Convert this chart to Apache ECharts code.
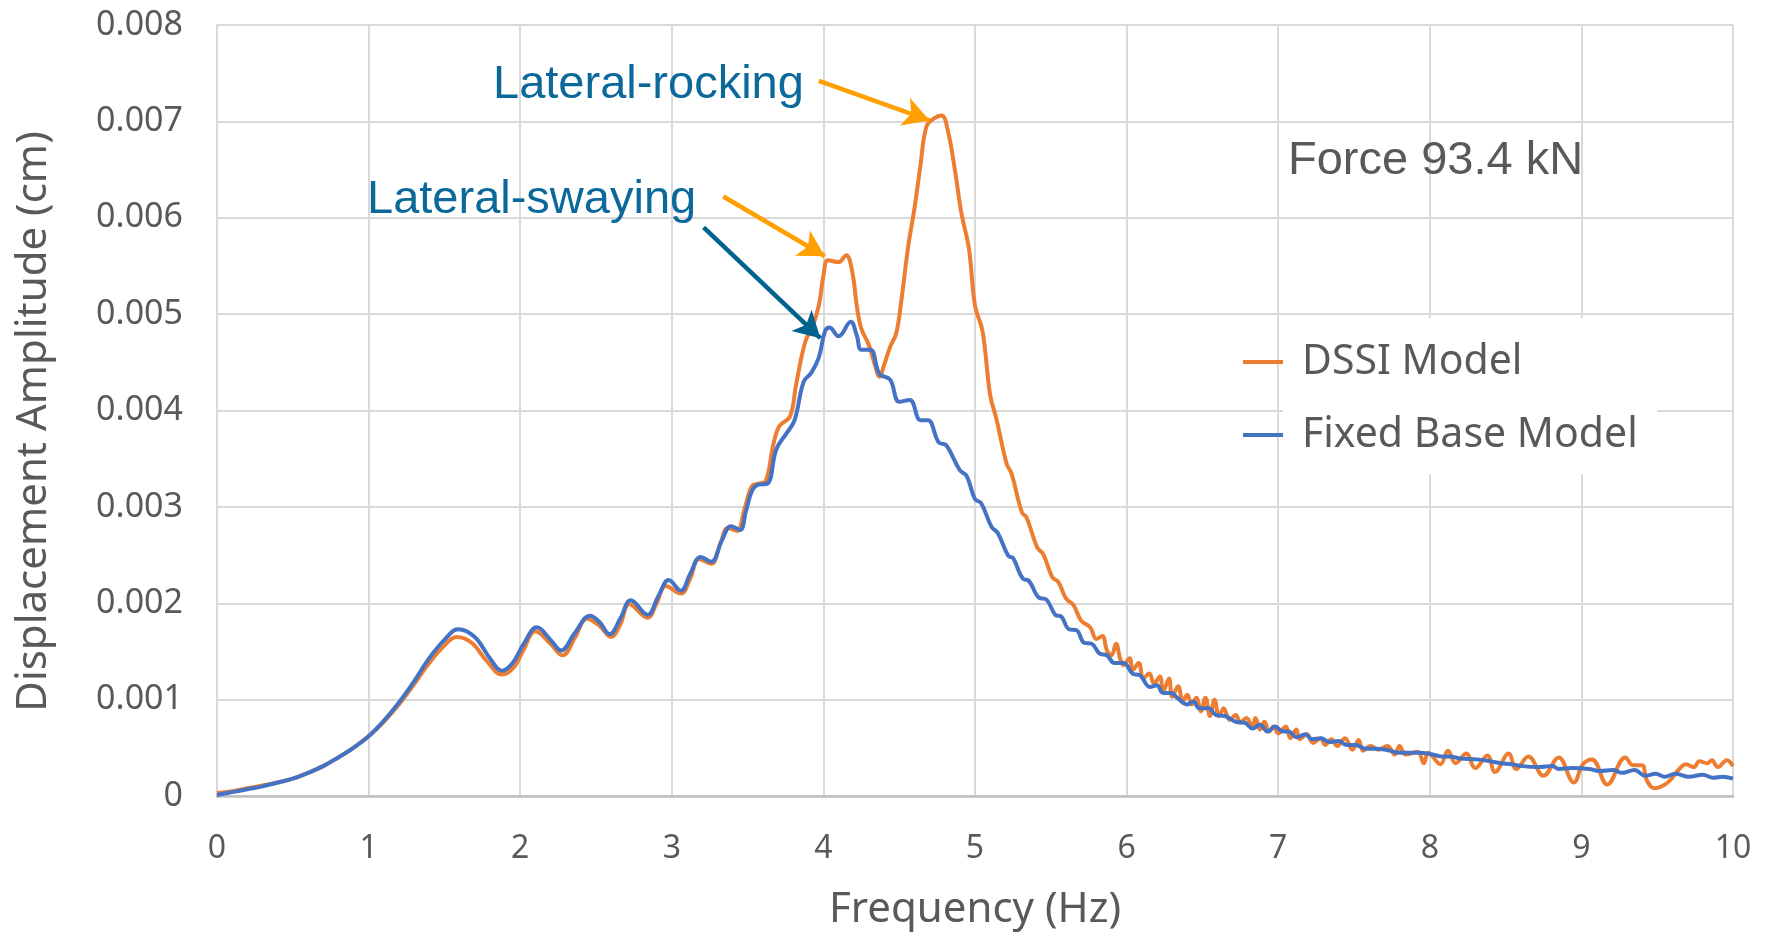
<!DOCTYPE html>
<html><head><meta charset="utf-8">
<script src="https://cdn.jsdelivr.net/npm/echarts@6/dist/echarts.min.js"></script>
<style>html,body{margin:0;padding:0;background:#fff}#c{width:1773px;height:936px}</style>
</head><body><div id="c"></div>
<script>
// ---- data ----
const xTicks = [0,1,2,3,4,5,6,7,8,9,10];
const yTicks = [0,0.001,0.002,0.003,0.004,0.005,0.006,0.007,0.008];

const dssiFreq = [0,0.1,0.2,0.3,0.4,0.5,0.6,0.7,0.8,0.9,1.0,1.1,1.2,1.3,1.4,1.5,1.58,1.68,1.78,1.88,1.96,2.02,2.1,2.2,2.28,2.36,2.44,2.52,2.6,2.66,2.72,2.84,2.9,2.96,3.06,3.12,3.18,3.26,3.32,3.37,3.43,3.48,3.53,3.57,3.62,3.67,3.71,3.78,3.82,3.88,3.93,3.97,4.00,4.03,4.10,4.15,4.19,4.22,4.25,4.30,4.34,4.37,4.40,4.44,4.48,4.51,4.56,4.60,4.64,4.68,4.73,4.78,4.82,4.87,4.91,4.96,5.00,5.05,5.10,5.14,5.21,5.24,5.31,5.34,5.41,5.45,5.51,5.55,5.60,5.65,5.70,5.76,5.80,5.84,5.87,5.90,5.93,5.96,5.98,6.02,6.04,6.08,6.11,6.15,6.18,6.22,6.24,6.28,6.30,6.34,6.37,6.40,6.43,6.46,6.49,6.52,6.55,6.58,6.61,6.64,6.68,6.72,6.75,6.79,6.83,6.85,6.88,6.91,6.94,6.97,7.00,7.05,7.08,7.12,7.14,7.19,7.23,7.28,7.31,7.35,7.39,7.44,7.49,7.53,7.56,7.61,7.66,7.72,7.77,7.80,7.84,7.92,7.96,7.99,8.07,8.12,8.17,8.24,8.30,8.38,8.43,8.52,8.57,8.65,8.75,8.85,8.95,9.01,9.07,9.17,9.29,9.34,9.40,9.43,9.48,9.57,9.64,9.69,9.74,9.78,9.83,9.86,9.90,9.96,10.0];
const dssiAmp = [0.00003,0.00005,0.00008,0.00011,0.00014,0.00018,0.00024,0.00031,0.0004,0.0005,0.00062,0.00077,0.00095,0.00116,0.00138,0.00156,0.00165,0.00159,0.0014,0.00126,0.00134,0.00151,0.00171,0.00158,0.00146,0.00164,0.00184,0.00177,0.00165,0.00178,0.00199,0.00185,0.002,0.00218,0.0021,0.00225,0.00246,0.00241,0.00262,0.00278,0.00275,0.00298,0.00322,0.00324,0.00327,0.00365,0.00384,0.00394,0.00427,0.00471,0.00488,0.00509,0.0054,0.00556,0.00554,0.00561,0.00544,0.00509,0.00485,0.00468,0.00447,0.00435,0.00447,0.00466,0.0048,0.00509,0.00571,0.00609,0.00654,0.00695,0.00703,0.00706,0.00691,0.00647,0.00605,0.00568,0.00509,0.00482,0.00416,0.00392,0.00344,0.00335,0.00294,0.00289,0.00258,0.00251,0.00227,0.00222,0.00205,0.00198,0.00182,0.00175,0.00163,0.00166,0.00151,0.00146,0.00158,0.00141,0.00136,0.00143,0.00131,0.00138,0.00122,0.00127,0.00117,0.00124,0.00108,0.00122,0.00103,0.00114,0.00098,0.00105,0.00095,0.00102,0.00088,0.00102,0.00083,0.001,0.00083,0.00091,0.00079,0.00084,0.00076,0.00081,0.00072,0.00081,0.00069,0.00077,0.00067,0.00072,0.00065,0.00072,0.0006,0.00069,0.00059,0.00064,0.00055,0.0006,0.00053,0.00059,0.00052,0.0006,0.00048,0.00058,0.00047,0.00052,0.00048,0.00052,0.00043,0.00052,0.00043,0.00046,0.00034,0.00045,0.00033,0.00047,0.00034,0.00044,0.00029,0.00042,0.00025,0.00044,0.00028,0.00041,0.00021,0.0004,0.00014,0.00033,0.00038,0.00012,0.0004,0.00032,0.00032,0.00017,0.00008,0.00014,0.00027,0.00033,0.0003,0.00036,0.00034,0.00037,0.0003,0.00037,0.00031];

const fixedFreq = [0,0.1,0.2,0.3,0.4,0.5,0.6,0.7,0.8,0.9,1.0,1.1,1.2,1.3,1.4,1.5,1.59,1.7,1.8,1.88,1.95,2.02,2.11,2.2,2.27,2.36,2.46,2.52,2.59,2.66,2.73,2.84,2.91,2.98,3.06,3.12,3.19,3.26,3.33,3.39,3.45,3.49,3.53,3.57,3.63,3.69,3.76,3.81,3.87,3.92,3.97,4.01,4.04,4.10,4.18,4.22,4.25,4.31,4.37,4.44,4.50,4.57,4.64,4.69,4.76,4.81,4.90,4.945,5.00,5.04,5.11,5.15,5.22,5.25,5.32,5.35,5.42,5.47,5.53,5.57,5.62,5.67,5.72,5.77,5.82,5.87,5.92,5.98,6.04,6.09,6.154,6.2,6.24,6.29,6.34,6.40,6.44,6.48,6.54,6.59,6.65,6.72,6.78,6.83,6.88,6.93,6.98,7.03,7.07,7.12,7.18,7.22,7.28,7.34,7.40,7.45,7.51,7.58,7.64,7.71,7.80,7.87,7.93,8.02,8.08,8.13,8.20,8.31,8.40,8.47,8.54,8.61,8.72,8.81,8.85,8.94,9.05,9.12,9.21,9.27,9.35,9.42,9.49,9.55,9.62,9.71,9.80,9.87,9.93,10.0];
const fixedAmp = [0.00001,0.00004,0.00007,0.0001,0.00014,0.00018,0.00024,0.00031,0.0004,0.0005,0.00062,0.00078,0.00097,0.00119,0.00143,0.00162,0.00173,0.00165,0.00143,0.0013,0.00138,0.00157,0.00175,0.00162,0.00151,0.00169,0.00187,0.00181,0.00168,0.00184,0.00203,0.00188,0.00207,0.00224,0.00213,0.0023,0.00248,0.00243,0.00265,0.0028,0.00276,0.00296,0.00317,0.00323,0.00324,0.0036,0.00377,0.0039,0.0043,0.00439,0.00455,0.00482,0.00486,0.00477,0.00492,0.00478,0.00463,0.00463,0.00438,0.00432,0.00409,0.00411,0.0039,0.0039,0.00367,0.00364,0.00338,0.00332,0.00308,0.00304,0.00279,0.00273,0.00249,0.00247,0.00225,0.00224,0.00206,0.00204,0.00188,0.00186,0.00173,0.00172,0.00159,0.00158,0.00148,0.00146,0.00138,0.00138,0.00127,0.00125,0.00113,0.00115,0.00107,0.00107,0.00101,0.00095,0.00098,0.00091,0.00091,0.00084,0.00083,0.00077,0.00076,0.0007,0.00074,0.00067,0.00072,0.00067,0.00067,0.00061,0.00064,0.00059,0.0006,0.00056,0.00057,0.00053,0.00053,0.00049,0.00049,0.00048,0.00045,0.00045,0.00045,0.00043,0.00041,0.00041,0.00039,0.00038,0.00036,0.00034,0.00033,0.00031,0.0003,0.00031,0.00028,0.00029,0.00028,0.00026,0.00027,0.00024,0.00027,0.00021,0.00023,0.0002,0.00023,0.0002,0.00022,0.00019,0.0002,0.00018];

// annotation arrows: [fromFreq, fromAmp, toFreq, toAmp]
const arrowRocking = [3.97, 0.00742, 4.70, 0.00701];
const arrowSwayDSSI = [3.34, 0.00622, 4.01, 0.00560];
const arrowSwayFixed = [3.21, 0.00590, 3.98, 0.00475];

const seriesNames = ['DSSI Model', 'Fixed Base Model'];
const annotationTexts = ['Lateral-rocking', 'Lateral-swaying', 'Force 93.4 kN'];

// ---- chart ----
const zip = (a, b) => a.map((x, i) => [x, b[i]]);
const chart = echarts.init(document.getElementById('c'), null, {renderer: 'canvas'});
const gray = '#595959';
const font = 'Noto Sans';
const arrowLine = (a, color) => [
  {coord: [a[0], a[1]], lineStyle: {color: color, width: 4.5, type: 'solid'}, symbol: 'none'},
  {coord: [a[2], a[3]], symbol: 'arrow'}
];

chart.setOption({
  animation: false,
  backgroundColor: '#fff',
  grid: {left: 217, top: 25, right: 40, bottom: 136, containLabel: false},
  xAxis: {
    type: 'value', min: 0, max: 10, interval: 1,
    name: 'Frequency (Hz)', nameLocation: 'middle', nameGap: 93,
    nameTextStyle: {fontFamily: font, fontSize: 42, color: gray},
    axisLine: {show: true, lineStyle: {color: '#BFBFBF', width: 2.5}},
    axisTick: {show: false},
    axisLabel: {fontFamily: font, fontSize: 32, color: gray, margin: 37,
      formatter: v => xTicks.includes(v) ? String(v) : ''},
    splitLine: {show: true, lineStyle: {color: '#D9D9D9', width: 2}}
  },
  yAxis: {
    type: 'value', min: 0, max: 0.008, interval: 0.001,
    name: 'Displacement Amplitude (cm)', nameLocation: 'middle', nameGap: 162, nameRotate: 90,
    nameTextStyle: {fontFamily: font, fontSize: 42, color: gray, padding: [0, 22, 0, 0]},
    axisLine: {show: true, lineStyle: {color: '#D9D9D9', width: 2}},
    axisTick: {show: false},
    axisLabel: {fontFamily: font, fontSize: 34, color: gray, margin: 34,
      formatter: v => { const t = yTicks.find(k => Math.abs(k - v) < 1e-9); return t === 0 ? '0' : t.toFixed(3); }},
    splitLine: {show: true, lineStyle: {color: '#D9D9D9', width: 2}}
  },
  legend: {
    orient: 'vertical', left: 1238, top: 335,
    icon: 'rect', itemWidth: 40, itemHeight: 4, itemGap: 29,
    textStyle: {fontFamily: font, fontSize: 41, color: gray, lineHeight: 44, padding: [0, 0, 0, 14]},
    data: seriesNames
  },
  graphic: [
    {type: 'rect', left: 1283, top: 318, shape: {width: 374, height: 156}, style: {fill: '#fff'}, z: 1, silent: true},
    {type: 'text', x: 493, y: 85, z: 10, style: {text: annotationTexts[0], font: '47px "Liberation Sans", Arial', fill: '#0A689A', textVerticalAlign: 'middle'}},
    {type: 'text', x: 367, y: 200, z: 10, style: {text: annotationTexts[1], font: '47px "Liberation Sans", Arial', fill: '#0A689A', textVerticalAlign: 'middle'}},
    {type: 'text', x: 1288, y: 161, z: 10, style: {text: annotationTexts[2], font: '47px "Liberation Sans", Arial', fill: gray, textVerticalAlign: 'middle'}}
  ],
  series: [
    {
      name: seriesNames[0], type: 'line', data: zip(dssiFreq, dssiAmp),
      showSymbol: false, symbol: 'none', smooth: 0.4, z: 3,
      lineStyle: {color: '#ED7D31', width: 4}, itemStyle: {color: '#ED7D31'},
      markLine: {
        silent: true, animation: false, symbol: ['none', 'arrow'], symbolSize: [22, 26],
        label: {show: false}, emphasis: {disabled: true},
        data: [arrowLine(arrowRocking, '#FFA000'), arrowLine(arrowSwayDSSI, '#FFA000'), arrowLine(arrowSwayFixed, '#00628F')]
      }
    },
    {
      name: seriesNames[1], type: 'line', data: zip(fixedFreq, fixedAmp),
      showSymbol: false, symbol: 'none', smooth: 0.4, z: 4,
      lineStyle: {color: '#4472C4', width: 4}, itemStyle: {color: '#4472C4'}
    }
  ]
});
</script></body></html>
